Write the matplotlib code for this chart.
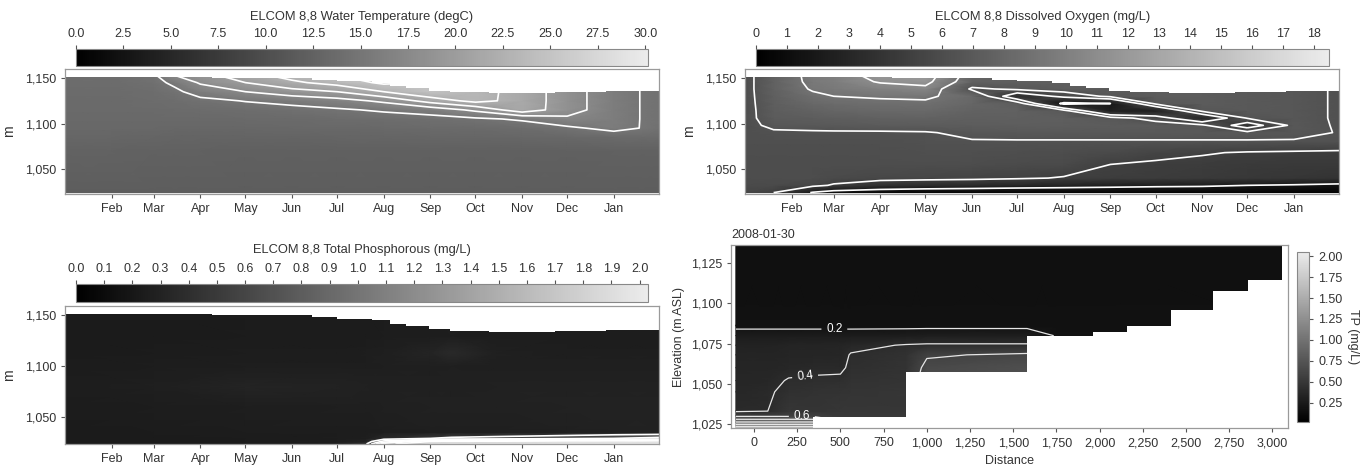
import numpy as np
import matplotlib
matplotlib.use("Agg")
import matplotlib.pyplot as plt
import matplotlib.dates as mdates
from matplotlib.colors import LinearSegmentedColormap
from matplotlib.ticker import FuncFormatter

plt.rcParams["font.family"] = "Liberation Sans"

# 1. Data

# water surface level, step changes (shared by the three time panels)
surf_dates = ["2007-01-01", "2007-03-05", "2007-04-09", "2007-05-22", "2007-06-14",
              "2007-07-01", "2007-07-24", "2007-08-05", "2007-08-16", "2007-08-31",
              "2007-09-14", "2007-10-10", "2007-11-23", "2007-12-27", "2008-01-31"]
surf_elev = [1151.6, 1150.8, 1150.6, 1150.0, 1148.4, 1146.7, 1145.0, 1141.8,
             1139.5, 1136.2, 1134.3, 1133.6, 1134.6, 1135.6, 1135.6]

month_ticks = ["2007-02-01", "2007-03-01", "2007-04-01", "2007-05-01", "2007-06-01",
               "2007-07-01", "2007-08-01", "2007-09-01", "2007-10-01", "2007-11-01",
               "2007-12-01", "2008-01-01"]

# water temperature (degC): one profile per date, bottom -> top
temp_dates = ["2007-01-01", "2007-02-01", "2007-03-01", "2007-03-15", "2007-04-01",
              "2007-05-01", "2007-06-01", "2007-07-01", "2007-08-01", "2007-09-01",
              "2007-10-01", "2007-11-01", "2007-12-01", "2008-01-01", "2008-01-20",
              "2008-01-31"]
temp_elev = [1024, 1070, 1085, 1095, 1105, 1115, 1125, 1135, 1145, 1153]
temp_profiles = [
    [12.0, 12.5, 13.0, 13.2, 13.4, 13.5, 13.6, 13.7, 13.8, 13.8],
    [12.0, 12.5, 13.0, 13.2, 13.4, 13.5, 13.6, 13.7, 13.8, 13.9],
    [12.0, 12.4, 12.9, 13.2, 13.4, 13.6, 13.8, 14.0, 14.3, 14.6],
    [12.0, 12.4, 12.8, 13.1, 13.4, 13.7, 14.0, 14.5, 15.5, 17.5],
    [12.0, 12.4, 12.8, 13.1, 13.4, 13.8, 14.4, 16.0, 17.8, 19.0],
    [12.0, 12.3, 12.8, 13.1, 13.5, 14.0, 15.1, 17.5, 20.0, 21.5],
    [12.0, 12.3, 12.8, 13.2, 13.6, 14.3, 15.7, 19.0, 22.0, 23.5],
    [12.0, 12.3, 12.9, 13.3, 13.8, 14.7, 16.5, 20.0, 23.5, 25.0],
    [12.0, 12.3, 12.9, 13.4, 14.0, 15.3, 18.0, 22.5, 25.5, 26.5],
    [12.0, 12.3, 13.0, 13.5, 14.2, 16.0, 21.0, 24.9, 24.9, 24.9],
    [12.0, 12.3, 13.0, 13.6, 14.6, 18.0, 23.3, 23.4, 23.4, 23.4],
    [12.0, 12.3, 13.1, 13.8, 15.3, 21.5, 21.6, 21.6, 21.6, 21.6],
    [12.0, 12.3, 13.2, 14.5, 17.0, 18.6, 18.6, 18.6, 18.6, 18.6],
    [12.0, 12.4, 13.5, 15.8, 16.0, 16.0, 16.0, 16.0, 16.0, 16.0],
    [12.0, 12.4, 13.6, 14.9, 14.9, 14.9, 14.9, 14.9, 14.9, 14.9],
    [12.0, 12.4, 13.6, 14.4, 14.5, 14.5, 14.5, 14.5, 14.5, 14.5],
]
temp_levels = [15, 17.5, 20, 22.5, 25]
temp_ticks = [0, 2.5, 5, 7.5, 10, 12.5, 15, 17.5, 20, 22.5, 25, 27.5, 30]

# dissolved oxygen (mg/L)
do_dates = ["2007-01-01", "2007-01-20", "2007-02-15", "2007-03-01", "2007-04-01",
            "2007-05-01", "2007-06-01", "2007-07-01", "2007-08-01", "2007-09-01",
            "2007-10-01", "2007-11-01", "2007-12-01", "2008-01-01", "2008-01-31"]
do_elev = [1024, 1032, 1040, 1055, 1068, 1080, 1090, 1098, 1106, 1114, 1122, 1130,
           1138, 1146, 1153]
do_profiles = [
    [5.5, 5.8, 6.0, 6.0, 6.1, 6.2, 6.2, 6.1, 6.1, 6.0, 6.0, 6.0, 6.0, 6.0, 6.0],
    [5.0, 5.8, 6.0, 6.0, 6.1, 6.2, 6.3, 6.8, 7.1, 7.3, 7.4, 7.5, 7.6, 7.6, 7.6],
    [1.8, 5.5, 6.0, 6.0, 6.1, 6.2, 6.35, 6.9, 7.3, 7.7, 8.1, 8.6, 9.2, 9.5, 9.6],
    [1.0, 4.8, 5.8, 6.0, 6.1, 6.2, 6.35, 7.0, 7.4, 7.9, 8.4, 9.0, 9.5, 9.8, 9.9],
    [0.6, 3.8, 5.6, 6.0, 6.1, 6.2, 6.35, 7.1, 7.6, 8.1, 8.6, 9.2, 10.0, 11.2, 11.8],
    [0.4, 3.5, 5.5, 6.0, 6.2, 6.3, 6.4, 7.2, 7.7, 8.2, 8.7, 9.3, 10.5, 11.6, 12.0],
    [0.3, 3.3, 5.4, 6.0, 6.2, 6.4, 6.8, 7.2, 7.5, 7.7, 8.0, 8.2, 6.2, 7.6, 8.0],
    [0.3, 3.0, 5.2, 5.9, 6.1, 6.4, 6.9, 7.3, 7.5, 7.6, 7.3, 3.5, 6.8, 7.5, 7.5],
    [0.3, 2.8, 4.9, 5.8, 6.0, 6.4, 6.9, 7.3, 7.4, 7.0, 1.5, 5.5, 7.2, 7.5, 7.5],
    [0.3, 2.6, 4.8, 5.0, 5.8, 6.4, 6.9, 7.2, 7.0, 2.5, 2.0, 6.8, 7.2, 7.5, 7.5],
    [0.3, 2.4, 4.7, 4.8, 5.4, 6.4, 6.9, 7.1, 6.0, 2.5, 6.8, 7.2, 7.2, 7.2, 7.2],
    [0.3, 2.3, 4.6, 4.7, 5.1, 6.4, 6.9, 6.8, 3.0, 6.8, 7.2, 7.2, 7.2, 7.2, 7.2],
    [0.3, 2.0, 4.4, 4.6, 4.9, 6.4, 6.9, 4.0, 6.6, 7.0, 7.0, 7.0, 7.0, 7.0, 7.0],
    [0.2, 1.8, 4.2, 4.5, 4.8, 6.4, 6.8, 6.9, 6.8, 6.8, 6.8, 6.8, 6.8, 6.8, 6.8],
    [0.2, 1.5, 4.0, 4.5, 4.7, 6.3, 6.45, 6.4, 6.4, 6.4, 6.4, 6.4, 6.4, 6.4, 6.4],
]
do_levels = [2, 5, 6.5, 9, 11]
do_ticks = list(range(0, 19))

# total phosphorous (mg/L)
tp_dates = ["2007-01-01", "2007-03-01", "2007-05-01", "2007-07-01", "2007-07-20",
            "2007-08-01", "2007-09-01", "2007-09-15", "2007-10-15", "2007-12-01",
            "2008-01-01", "2008-01-31"]
tp_elev = [1023.5, 1026, 1029, 1035, 1060, 1080, 1100, 1113, 1130, 1153]
tp_profiles = [
    [0.23, 0.23, 0.23, 0.23, 0.24, 0.25, 0.24, 0.23, 0.23, 0.23],
    [0.23, 0.23, 0.23, 0.24, 0.25, 0.27, 0.25, 0.24, 0.23, 0.23],
    [0.24, 0.24, 0.24, 0.25, 0.26, 0.31, 0.26, 0.25, 0.24, 0.24],
    [0.28, 0.26, 0.25, 0.25, 0.27, 0.30, 0.26, 0.25, 0.24, 0.24],
    [0.45, 0.30, 0.26, 0.25, 0.27, 0.29, 0.26, 0.26, 0.24, 0.24],
    [1.60, 0.90, 0.35, 0.26, 0.28, 0.28, 0.27, 0.27, 0.25, 0.25],
    [2.00, 1.70, 0.50, 0.27, 0.29, 0.28, 0.27, 0.31, 0.25, 0.25],
    [2.00, 1.80, 0.55, 0.27, 0.29, 0.28, 0.28, 0.36, 0.26, 0.25],
    [2.00, 1.80, 0.60, 0.27, 0.29, 0.29, 0.27, 0.28, 0.25, 0.25],
    [2.00, 1.90, 0.70, 0.28, 0.30, 0.29, 0.27, 0.26, 0.25, 0.25],
    [2.00, 1.90, 0.80, 0.29, 0.30, 0.29, 0.27, 0.26, 0.25, 0.25],
    [2.00, 1.90, 0.90, 0.29, 0.30, 0.29, 0.27, 0.26, 0.25, 0.25],
]
tp_levels = [0.5, 0.8, 1.1, 1.4, 1.7]
tp_ticks = [round(0.1 * i, 1) for i in range(21)]

# cross-section on 2008-01-30: TP profile per distance node, bottom -> top
xs_dist = [-105, 80, 200, 340, 500, 560, 880, 1000, 1580, 1750, 3053]
xs_elev = [1022, 1024, 1026, 1028, 1030, 1033, 1045, 1052, 1060, 1068, 1074, 1080, 1086, 1137]
xs_profiles = [
    [1.6, 1.3, 1.03, 0.79, 0.57, 0.38, 0.36, 0.35, 0.34, 0.33, 0.32, 0.26, 0.17, 0.16],
    [1.6, 1.3, 1.03, 0.79, 0.57, 0.40, 0.38, 0.36, 0.34, 0.33, 0.32, 0.26, 0.17, 0.16],
    [1.6, 1.3, 1.03, 0.79, 0.57, 0.48, 0.44, 0.41, 0.36, 0.34, 0.33, 0.26, 0.17, 0.16],
    [1.6, 1.3, 1.03, 0.79, 0.57, 0.47, 0.45, 0.42, 0.37, 0.34, 0.33, 0.26, 0.17, 0.16],
    [0.5, 0.5, 0.5, 0.5, 0.5, 0.48, 0.46, 0.43, 0.37, 0.35, 0.34, 0.26, 0.17, 0.16],
    [0.5, 0.5, 0.5, 0.5, 0.5, 0.48, 0.47, 0.45, 0.43, 0.41, 0.36, 0.26, 0.17, 0.16],
    [0.5, 0.5, 0.5, 0.5, 0.5, 0.48, 0.48, 0.47, 0.46, 0.45, 0.41, 0.27, 0.17, 0.16],
    [0.7, 0.7, 0.7, 0.7, 0.7, 0.7, 0.7, 0.7, 0.65, 0.58, 0.42, 0.28, 0.17, 0.16],
    [0.7, 0.7, 0.7, 0.7, 0.7, 0.7, 0.7, 0.7, 0.70, 0.63, 0.42, 0.28, 0.17, 0.16],
    [0.2, 0.2, 0.2, 0.2, 0.2, 0.2, 0.2, 0.2, 0.2, 0.2, 0.2, 0.19, 0.17, 0.16],
    [0.17, 0.17, 0.17, 0.17, 0.17, 0.17, 0.17, 0.17, 0.17, 0.17, 0.17, 0.17, 0.17, 0.16],
]
xs_levels = [0.2, 0.4, 0.6, 0.8, 1.0, 1.2, 1.4]
bed_edges = [-105, 340, 880, 1580, 1960, 2160, 2412, 2654, 2856, 3053, 3120]
bed_elev = [1022, 1029.5, 1057.5, 1080, 1082, 1086, 1095.6, 1108, 1114.4, 1140, 1140]
xs_ticks = list(range(0, 3001, 250))
xs_cticks = [0.25, 0.5, 0.75, 1.0, 1.25, 1.5, 1.75, 2.0]

# 2. Helpers
cmap = LinearSegmentedColormap.from_list("grey", ["#000000", "#ececec"])
TXT = "#333333"


def to_num(dates):
    return mdates.date2num(np.array(dates, dtype="datetime64[D]"))


def comma(v, pos):
    return f"{v:,.0f}"


def style(ax):
    for s in ax.spines.values():
        s.set_color("#9a9a9a")
        s.set_linewidth(0.9)
        s.set_zorder(4)
    ax.tick_params(length=3, width=0.8, color="#555555", labelsize=9, labelcolor=TXT)


fig = plt.figure(figsize=(13.62, 4.69), dpi=100)


def time_panel(ax_rect, cax_rect, dates, elev, profiles, vmax, levels, title, title_y,
               cticks, cfmt, ylim):
    ax = fig.add_axes(ax_rect)
    cax = fig.add_axes(cax_rect)
    x = to_num(dates)
    z = np.array(profiles).T
    mesh = ax.pcolormesh(x, elev, z, shading="gouraud", cmap=cmap, vmin=0, vmax=vmax)
    ax.contour(x, elev, z, levels=levels, colors="white", linewidths=1.2)
    ax.fill_between(to_num(surf_dates), surf_elev, 1200, step="post",
                    color="white", lw=0, zorder=2.2)
    ax.set_xlim(to_num(["2007-01-01", "2008-01-31"]))
    ax.set_ylim(*ylim)
    ax.set_xticks(to_num(month_ticks))
    ax.xaxis.set_major_formatter(mdates.DateFormatter("%b"))
    ax.set_yticks([1050, 1100, 1150])
    ax.yaxis.set_major_formatter(FuncFormatter(comma))
    ax.set_ylabel("m", fontsize=10, color=TXT, labelpad=6)
    style(ax)

    cb = fig.colorbar(mesh, cax=cax, orientation="horizontal", ticks=cticks, format=cfmt)
    cax.xaxis.set_ticks_position("top")
    cb.outline.set_edgecolor("#888888")
    cb.outline.set_linewidth(0.8)
    cax.tick_params(length=3, width=0.8, color="#555555", labelsize=9, labelcolor=TXT)
    pos = cax.get_position()
    fig.text((pos.x0 + pos.x1) / 2, title_y, title, ha="center", va="center",
             fontsize=9.3, color=TXT)
    return ax


# 3. The three time-depth panels
time_panel([0.0477, 0.5864, 0.4361, 0.2665], [0.0558, 0.8593, 0.4200, 0.0362],
           temp_dates, temp_elev, temp_profiles, 30.15, temp_levels,
           "ELCOM 8,8 Water Temperature (degC)", 0.9638, temp_ticks, "%.1f",
           (1022.5, 1160))
time_panel([0.5470, 0.5864, 0.4361, 0.2665], [0.5551, 0.8593, 0.4207, 0.0362],
           do_dates, do_elev, do_profiles, 18.5, do_levels,
           "ELCOM 8,8 Dissolved Oxygen (mg/L)", 0.9638, do_ticks, "%d",
           (1022.5, 1160))
time_panel([0.0477, 0.0533, 0.4361, 0.2942], [0.0558, 0.3561, 0.4200, 0.0384],
           tp_dates, tp_elev, tp_profiles, 2.03, tp_levels,
           "ELCOM 8,8 Total Phosphorous (mg/L)", 0.467, tp_ticks, "%.1f",
           (1023.5, 1159))

# 4. Cross-section panel
ax = fig.add_axes([0.5367, 0.0874, 0.4090, 0.3902])
cax = fig.add_axes([0.9523, 0.1002, 0.0088, 0.3625])
zx = np.array(xs_profiles).T
mesh = ax.pcolormesh(xs_dist, xs_elev, zx, shading="gouraud", cmap=cmap, vmin=0.02, vmax=2.05)
cs = ax.contour(xs_dist, xs_elev, zx, levels=xs_levels, colors="#e6e6e6", linewidths=0.9)
ax.clabel(cs, levels=[0.2, 0.4, 0.6], manual=[(465, 1082), (300, 1050), (277, 1029.6)],
          fmt="%.1f", fontsize=8.5, colors="white", inline=True)
ax.fill_between(bed_edges, 1000, bed_elev, step="post", color="white", lw=0, zorder=2.2)
ax.set_xlim(-133, 3090)
ax.set_ylim(1022.5, 1136.3)
ax.set_xticks(xs_ticks)
ax.set_yticks([1025, 1050, 1075, 1100, 1125])
ax.xaxis.set_major_formatter(FuncFormatter(comma))
ax.yaxis.set_major_formatter(FuncFormatter(comma))
ax.set_xlabel("Distance", fontsize=9, color=TXT, labelpad=4)
ax.set_ylabel("Elevation (m ASL)", fontsize=9, color=TXT, labelpad=4)
ax.set_title("2008-01-30", loc="left", fontsize=9, color=TXT, pad=5)
style(ax)

cb = fig.colorbar(mesh, cax=cax, ticks=xs_cticks, format="%.2f")
cb.outline.set_edgecolor("#888888")
cb.outline.set_linewidth(0.8)
cax.tick_params(length=3, width=0.8, color="#555555", labelsize=9, labelcolor=TXT)
cb.set_label("TP (mg/L)", rotation=270, fontsize=9, color=TXT, labelpad=12)

# 5. Save
fig.savefig("out.png", dpi=100)
